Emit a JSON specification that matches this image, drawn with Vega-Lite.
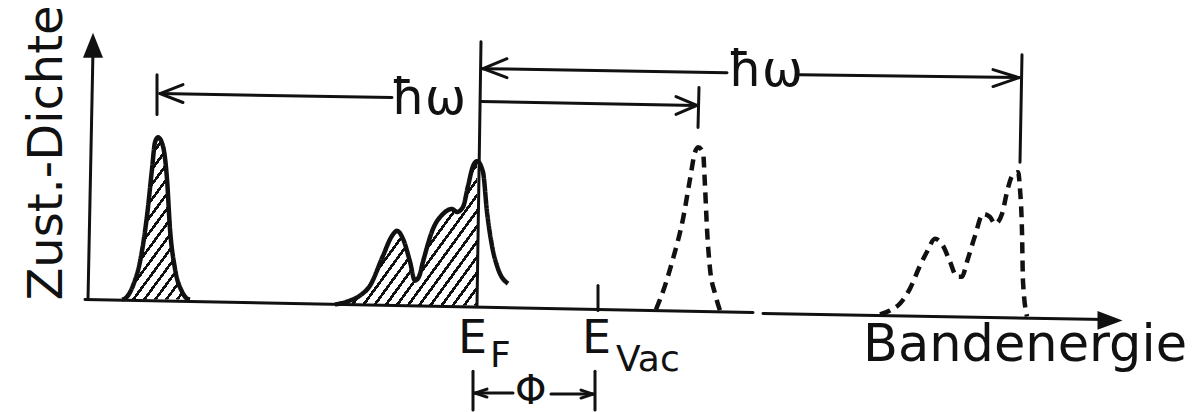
{
  "$schema": "https://vega.github.io/schema/vega-lite/v6.json",
  "width": 1198,
  "height": 412,
  "autosize": {"type": "fit", "contains": "padding"},
  "padding": 0,
  "background": "white",
  "config": {"view": {"stroke": null}},
  "datasets": {
    "curves": [
      {"id": "p1", "style": "solid", "x": 122, "y": 301, "b": 301},
      {"id": "p1", "style": "solid", "x": 125, "y": 300, "b": 301},
      {"id": "p1", "style": "solid", "x": 133, "y": 287, "b": 301},
      {"id": "p1", "style": "solid", "x": 140, "y": 263, "b": 301},
      {"id": "p1", "style": "solid", "x": 147, "y": 217, "b": 301},
      {"id": "p1", "style": "solid", "x": 152, "y": 170, "b": 301},
      {"id": "p1", "style": "solid", "x": 155, "y": 143, "b": 301},
      {"id": "p1", "style": "solid", "x": 158, "y": 138, "b": 301},
      {"id": "p1", "style": "solid", "x": 163, "y": 147, "b": 301},
      {"id": "p1", "style": "solid", "x": 167, "y": 180, "b": 301},
      {"id": "p1", "style": "solid", "x": 170, "y": 230, "b": 301},
      {"id": "p1", "style": "solid", "x": 175, "y": 270, "b": 301},
      {"id": "p1", "style": "solid", "x": 182, "y": 293, "b": 301},
      {"id": "p1", "style": "solid", "x": 187, "y": 300, "b": 301},
      {"id": "p1", "style": "solid", "x": 190, "y": 301, "b": 301},
      {"id": "p2", "style": "solid", "x": 335, "y": 306, "b": 307},
      {"id": "p2", "style": "solid", "x": 350, "y": 302, "b": 307},
      {"id": "p2", "style": "solid", "x": 360, "y": 297, "b": 307},
      {"id": "p2", "style": "solid", "x": 370, "y": 287, "b": 307},
      {"id": "p2", "style": "solid", "x": 383, "y": 257, "b": 307},
      {"id": "p2", "style": "solid", "x": 392, "y": 237, "b": 307},
      {"id": "p2", "style": "solid", "x": 397, "y": 232, "b": 307},
      {"id": "p2", "style": "solid", "x": 403, "y": 240, "b": 307},
      {"id": "p2", "style": "solid", "x": 410, "y": 263, "b": 307},
      {"id": "p2", "style": "solid", "x": 415, "y": 282, "b": 307},
      {"id": "p2", "style": "solid", "x": 419, "y": 278, "b": 307},
      {"id": "p2", "style": "solid", "x": 423, "y": 263, "b": 307},
      {"id": "p2", "style": "solid", "x": 433, "y": 230, "b": 307},
      {"id": "p2", "style": "solid", "x": 443, "y": 215, "b": 307},
      {"id": "p2", "style": "solid", "x": 452, "y": 210, "b": 307},
      {"id": "p2", "style": "solid", "x": 457, "y": 213, "b": 307},
      {"id": "p2", "style": "solid", "x": 463, "y": 208, "b": 307},
      {"id": "p2", "style": "solid", "x": 468, "y": 187, "b": 307},
      {"id": "p2", "style": "solid", "x": 473, "y": 167, "b": 307},
      {"id": "p2", "style": "solid", "x": 477, "y": 162, "b": 307},
      {"id": "p2", "style": "solid", "x": 483, "y": 173, "b": 307},
      {"id": "p2", "style": "solid", "x": 487, "y": 213, "b": 307},
      {"id": "p2", "style": "solid", "x": 492, "y": 247, "b": 307},
      {"id": "p2", "style": "solid", "x": 498, "y": 270, "b": 307},
      {"id": "p2", "style": "solid", "x": 508, "y": 285, "b": 307},
      {"id": "p3", "style": "dashed", "x": 656, "y": 311, "b": 312},
      {"id": "p3", "style": "dashed", "x": 665, "y": 287, "b": 312},
      {"id": "p3", "style": "dashed", "x": 673, "y": 260, "b": 312},
      {"id": "p3", "style": "dashed", "x": 683, "y": 220, "b": 312},
      {"id": "p3", "style": "dashed", "x": 690, "y": 180, "b": 312},
      {"id": "p3", "style": "dashed", "x": 695, "y": 153, "b": 312},
      {"id": "p3", "style": "dashed", "x": 698, "y": 148, "b": 312},
      {"id": "p3", "style": "dashed", "x": 703, "y": 153, "b": 312},
      {"id": "p3", "style": "dashed", "x": 705, "y": 187, "b": 312},
      {"id": "p3", "style": "dashed", "x": 707, "y": 230, "b": 312},
      {"id": "p3", "style": "dashed", "x": 710, "y": 270, "b": 312},
      {"id": "p3", "style": "dashed", "x": 715, "y": 295, "b": 312},
      {"id": "p3", "style": "dashed", "x": 720, "y": 312, "b": 312},
      {"id": "p4", "style": "dashed", "x": 880, "y": 316, "b": 318},
      {"id": "p4", "style": "dashed", "x": 890, "y": 312, "b": 318},
      {"id": "p4", "style": "dashed", "x": 900, "y": 305, "b": 318},
      {"id": "p4", "style": "dashed", "x": 910, "y": 290, "b": 318},
      {"id": "p4", "style": "dashed", "x": 920, "y": 267, "b": 318},
      {"id": "p4", "style": "dashed", "x": 927, "y": 253, "b": 318},
      {"id": "p4", "style": "dashed", "x": 935, "y": 240, "b": 318},
      {"id": "p4", "style": "dashed", "x": 943, "y": 247, "b": 318},
      {"id": "p4", "style": "dashed", "x": 950, "y": 263, "b": 318},
      {"id": "p4", "style": "dashed", "x": 957, "y": 278, "b": 318},
      {"id": "p4", "style": "dashed", "x": 962, "y": 278, "b": 318},
      {"id": "p4", "style": "dashed", "x": 967, "y": 263, "b": 318},
      {"id": "p4", "style": "dashed", "x": 975, "y": 237, "b": 318},
      {"id": "p4", "style": "dashed", "x": 983, "y": 215, "b": 318},
      {"id": "p4", "style": "dashed", "x": 990, "y": 218, "b": 318},
      {"id": "p4", "style": "dashed", "x": 995, "y": 225, "b": 318},
      {"id": "p4", "style": "dashed", "x": 1002, "y": 215, "b": 318},
      {"id": "p4", "style": "dashed", "x": 1007, "y": 193, "b": 318},
      {"id": "p4", "style": "dashed", "x": 1012, "y": 177, "b": 318},
      {"id": "p4", "style": "dashed", "x": 1018, "y": 173, "b": 318},
      {"id": "p4", "style": "dashed", "x": 1020, "y": 190, "b": 318},
      {"id": "p4", "style": "dashed", "x": 1022, "y": 233, "b": 318},
      {"id": "p4", "style": "dashed", "x": 1023, "y": 283, "b": 318},
      {"id": "p4", "style": "dashed", "x": 1027, "y": 318, "b": 318}
    ],
    "segs": [
      {"x": 88, "y": 301, "x2": 93, "y2": 50},
      {"x": 85, "y": 301, "x2": 753, "y2": 314},
      {"x": 763, "y": 315, "x2": 1105, "y2": 321},
      {"x": 157, "y": 75, "x2": 157, "y2": 115},
      {"x": 160, "y": 94, "x2": 392, "y2": 98},
      {"x": 160, "y": 94, "x2": 183, "y2": 85},
      {"x": 160, "y": 94, "x2": 183, "y2": 103},
      {"x": 481, "y": 42, "x2": 477, "y2": 307},
      {"x": 483, "y": 69, "x2": 727, "y2": 73},
      {"x": 800, "y": 75, "x2": 1019, "y2": 78},
      {"x": 483, "y": 69, "x2": 507, "y2": 59},
      {"x": 483, "y": 69, "x2": 507, "y2": 78},
      {"x": 1019, "y": 78, "x2": 993, "y2": 70},
      {"x": 1019, "y": 78, "x2": 993, "y2": 87},
      {"x": 1022, "y": 55, "x2": 1020, "y2": 163},
      {"x": 481, "y": 102, "x2": 696, "y2": 106},
      {"x": 697, "y": 106, "x2": 676, "y2": 97},
      {"x": 697, "y": 106, "x2": 676, "y2": 115},
      {"x": 699, "y": 88, "x2": 698, "y2": 128},
      {"x": 598, "y": 287, "x2": 598, "y2": 312},
      {"x": 473, "y": 373, "x2": 473, "y2": 412},
      {"x": 595, "y": 373, "x2": 595, "y2": 412},
      {"x": 475, "y": 395, "x2": 513, "y2": 395},
      {"x": 551, "y": 396, "x2": 593, "y2": 396},
      {"x": 475, "y": 395, "x2": 487, "y2": 391},
      {"x": 475, "y": 395, "x2": 487, "y2": 399},
      {"x": 593, "y": 396, "x2": 581, "y2": 392},
      {"x": 593, "y": 396, "x2": 581, "y2": 400}
    ],
    "heads": [
      {"x": 93, "y": 45.5, "dir": "up"},
      {"x": 1110, "y": 322, "dir": "right"}
    ],
    "labels": [
      {"role": "axis", "x": 863, "y": 363, "t": "Bandenergie"},
      {"role": "yaxis", "x": 62, "y": 302, "t": "Zust.-Dichte"},
      {"role": "E", "x": 458, "y": 355, "t": "E"},
      {"role": "E", "x": 582, "y": 355, "t": "E"},
      {"role": "sub", "x": 490, "y": 369, "t": "F"},
      {"role": "sub", "x": 616, "y": 373, "t": "Vac"},
      {"role": "hw", "x": 391, "y": 115, "t": "ħω"},
      {"role": "hw", "x": 728, "y": 86, "t": "ħω"},
      {"role": "phi", "x": 515, "y": 406, "t": "Φ"}
    ]
  },
  "encoding": {
    "x": {"field": "x", "type": "quantitative", "scale": {"domain": [0, 1198], "nice": false, "zero": false}, "axis": null},
    "y": {"field": "y", "type": "quantitative", "scale": {"domain": [0, 412], "reverse": true, "nice": false, "zero": false}, "axis": null}
  },
  "layer": [
    {
      "data": {"name": "curves"},
      "transform": [{"filter": "datum.id == 'p1'"}],
      "mark": {"type": "area", "interpolate": "monotone", "fill": {"gradient": "linear", "x1": 0, "y1": 0, "x2": 0.675, "y2": 1.185, "stops": [
        {"offset": 0, "color": "white"}, {"offset": 0.0412, "color": "white"}, {"offset": 0.0412, "color": "#111"}, {"offset": 0.0588, "color": "#111"},
        {"offset": 0.0588, "color": "white"}, {"offset": 0.1, "color": "white"}, {"offset": 0.1, "color": "#111"}, {"offset": 0.1176, "color": "#111"},
        {"offset": 0.1176, "color": "white"}, {"offset": 0.1588, "color": "white"}, {"offset": 0.1588, "color": "#111"}, {"offset": 0.1765, "color": "#111"},
        {"offset": 0.1765, "color": "white"}, {"offset": 0.2176, "color": "white"}, {"offset": 0.2176, "color": "#111"}, {"offset": 0.2353, "color": "#111"},
        {"offset": 0.2353, "color": "white"}, {"offset": 0.2765, "color": "white"}, {"offset": 0.2765, "color": "#111"}, {"offset": 0.2941, "color": "#111"},
        {"offset": 0.2941, "color": "white"}, {"offset": 0.3353, "color": "white"}, {"offset": 0.3353, "color": "#111"}, {"offset": 0.3529, "color": "#111"},
        {"offset": 0.3529, "color": "white"}, {"offset": 0.3941, "color": "white"}, {"offset": 0.3941, "color": "#111"}, {"offset": 0.4118, "color": "#111"},
        {"offset": 0.4118, "color": "white"}, {"offset": 0.4529, "color": "white"}, {"offset": 0.4529, "color": "#111"}, {"offset": 0.4706, "color": "#111"},
        {"offset": 0.4706, "color": "white"}, {"offset": 0.5118, "color": "white"}, {"offset": 0.5118, "color": "#111"}, {"offset": 0.5294, "color": "#111"},
        {"offset": 0.5294, "color": "white"}, {"offset": 0.5706, "color": "white"}, {"offset": 0.5706, "color": "#111"}, {"offset": 0.5882, "color": "#111"},
        {"offset": 0.5882, "color": "white"}, {"offset": 0.6294, "color": "white"}, {"offset": 0.6294, "color": "#111"}, {"offset": 0.6471, "color": "#111"},
        {"offset": 0.6471, "color": "white"}, {"offset": 0.6882, "color": "white"}, {"offset": 0.6882, "color": "#111"}, {"offset": 0.7059, "color": "#111"},
        {"offset": 0.7059, "color": "white"}, {"offset": 0.7471, "color": "white"}, {"offset": 0.7471, "color": "#111"}, {"offset": 0.7647, "color": "#111"},
        {"offset": 0.7647, "color": "white"}, {"offset": 0.8059, "color": "white"}, {"offset": 0.8059, "color": "#111"}, {"offset": 0.8235, "color": "#111"},
        {"offset": 0.8235, "color": "white"}, {"offset": 0.8647, "color": "white"}, {"offset": 0.8647, "color": "#111"}, {"offset": 0.8824, "color": "#111"},
        {"offset": 0.8824, "color": "white"}, {"offset": 0.9235, "color": "white"}, {"offset": 0.9235, "color": "#111"}, {"offset": 0.9412, "color": "#111"},
        {"offset": 0.9412, "color": "white"}, {"offset": 0.9824, "color": "white"}, {"offset": 0.9824, "color": "#111"}, {"offset": 1, "color": "#111"}
      ]}},
      "encoding": {"y2": {"field": "b"}}
    },
    {
      "data": {"name": "curves"},
      "transform": [{"filter": "datum.id == 'p2' && datum.x <= 477"}],
      "mark": {"type": "area", "interpolate": "monotone", "fill": {"gradient": "linear", "x1": 0, "y1": 0, "x2": 1.124, "y2": 0.833, "stops": [
        {"offset": 0, "color": "white"}, {"offset": 0.0318, "color": "white"}, {"offset": 0.0318, "color": "#111"}, {"offset": 0.0455, "color": "#111"},
        {"offset": 0.0455, "color": "white"}, {"offset": 0.0773, "color": "white"}, {"offset": 0.0773, "color": "#111"}, {"offset": 0.0909, "color": "#111"},
        {"offset": 0.0909, "color": "white"}, {"offset": 0.1227, "color": "white"}, {"offset": 0.1227, "color": "#111"}, {"offset": 0.1364, "color": "#111"},
        {"offset": 0.1364, "color": "white"}, {"offset": 0.1682, "color": "white"}, {"offset": 0.1682, "color": "#111"}, {"offset": 0.1818, "color": "#111"},
        {"offset": 0.1818, "color": "white"}, {"offset": 0.2136, "color": "white"}, {"offset": 0.2136, "color": "#111"}, {"offset": 0.2273, "color": "#111"},
        {"offset": 0.2273, "color": "white"}, {"offset": 0.2591, "color": "white"}, {"offset": 0.2591, "color": "#111"}, {"offset": 0.2727, "color": "#111"},
        {"offset": 0.2727, "color": "white"}, {"offset": 0.3045, "color": "white"}, {"offset": 0.3045, "color": "#111"}, {"offset": 0.3182, "color": "#111"},
        {"offset": 0.3182, "color": "white"}, {"offset": 0.35, "color": "white"}, {"offset": 0.35, "color": "#111"}, {"offset": 0.3636, "color": "#111"},
        {"offset": 0.3636, "color": "white"}, {"offset": 0.3955, "color": "white"}, {"offset": 0.3955, "color": "#111"}, {"offset": 0.4091, "color": "#111"},
        {"offset": 0.4091, "color": "white"}, {"offset": 0.4409, "color": "white"}, {"offset": 0.4409, "color": "#111"}, {"offset": 0.4545, "color": "#111"},
        {"offset": 0.4545, "color": "white"}, {"offset": 0.4864, "color": "white"}, {"offset": 0.4864, "color": "#111"}, {"offset": 0.5, "color": "#111"},
        {"offset": 0.5, "color": "white"}, {"offset": 0.5318, "color": "white"}, {"offset": 0.5318, "color": "#111"}, {"offset": 0.5455, "color": "#111"},
        {"offset": 0.5455, "color": "white"}, {"offset": 0.5773, "color": "white"}, {"offset": 0.5773, "color": "#111"}, {"offset": 0.5909, "color": "#111"},
        {"offset": 0.5909, "color": "white"}, {"offset": 0.6227, "color": "white"}, {"offset": 0.6227, "color": "#111"}, {"offset": 0.6364, "color": "#111"},
        {"offset": 0.6364, "color": "white"}, {"offset": 0.6682, "color": "white"}, {"offset": 0.6682, "color": "#111"}, {"offset": 0.6818, "color": "#111"},
        {"offset": 0.6818, "color": "white"}, {"offset": 0.7136, "color": "white"}, {"offset": 0.7136, "color": "#111"}, {"offset": 0.7273, "color": "#111"},
        {"offset": 0.7273, "color": "white"}, {"offset": 0.7591, "color": "white"}, {"offset": 0.7591, "color": "#111"}, {"offset": 0.7727, "color": "#111"},
        {"offset": 0.7727, "color": "white"}, {"offset": 0.8045, "color": "white"}, {"offset": 0.8045, "color": "#111"}, {"offset": 0.8182, "color": "#111"},
        {"offset": 0.8182, "color": "white"}, {"offset": 0.85, "color": "white"}, {"offset": 0.85, "color": "#111"}, {"offset": 0.8636, "color": "#111"},
        {"offset": 0.8636, "color": "white"}, {"offset": 0.8955, "color": "white"}, {"offset": 0.8955, "color": "#111"}, {"offset": 0.9091, "color": "#111"},
        {"offset": 0.9091, "color": "white"}, {"offset": 0.9409, "color": "white"}, {"offset": 0.9409, "color": "#111"}, {"offset": 0.9545, "color": "#111"},
        {"offset": 0.9545, "color": "white"}, {"offset": 0.9864, "color": "white"}, {"offset": 0.9864, "color": "#111"}, {"offset": 1, "color": "#111"}
      ]}},
      "encoding": {"y2": {"field": "b"}}
    },
    {
      "data": {"name": "curves"},
      "mark": {"type": "line", "interpolate": "monotone", "color": "#111", "strokeWidth": 4.5, "strokeCap": "butt", "strokeJoin": "round"},
      "encoding": {
        "detail": {"field": "id"},
        "strokeDash": {"field": "style", "type": "nominal", "scale": {"domain": ["solid", "dashed"], "range": [[1, 0], [11, 7]]}, "legend": null}
      }
    },
    {
      "data": {"name": "segs"},
      "mark": {"type": "rule", "color": "#111", "strokeWidth": 3, "strokeCap": "round"},
      "encoding": {"x2": {"field": "x2"}, "y2": {"field": "y2"}}
    },
    {
      "data": {"name": "heads"},
      "mark": {"type": "point", "filled": true, "color": "#111", "opacity": 1, "size": 625},
      "encoding": {
        "shape": {"field": "dir", "type": "nominal", "scale": {"domain": ["up", "right"], "range": ["M0,-1L0.8,1L-0.8,1Z", "M1,0L-1,0.75L-1,-0.75Z"]}, "legend": null}
      }
    },
    {
      "data": {"name": "labels"},
      "transform": [{"filter": "datum.role == 'axis'"}],
      "mark": {"type": "text", "font": "DejaVu Sans", "fontSize": 51, "align": "left", "baseline": "alphabetic", "color": "#111"},
      "encoding": {"text": {"field": "t"}}
    },
    {
      "data": {"name": "labels"},
      "transform": [{"filter": "datum.role == 'yaxis'"}],
      "mark": {"type": "text", "font": "DejaVu Sans", "fontSize": 48, "angle": 270, "align": "left", "baseline": "alphabetic", "color": "#111"},
      "encoding": {"text": {"field": "t"}}
    },
    {
      "data": {"name": "labels"},
      "transform": [{"filter": "datum.role == 'E'"}],
      "mark": {"type": "text", "font": "DejaVu Sans", "fontSize": 46, "align": "left", "baseline": "alphabetic", "color": "#111"},
      "encoding": {"text": {"field": "t"}}
    },
    {
      "data": {"name": "labels"},
      "transform": [{"filter": "datum.role == 'sub'"}],
      "mark": {"type": "text", "font": "DejaVu Sans", "fontSize": 36, "align": "left", "baseline": "alphabetic", "color": "#111"},
      "encoding": {"text": {"field": "t"}}
    },
    {
      "data": {"name": "labels"},
      "transform": [{"filter": "datum.role == 'hw'"}],
      "mark": {"type": "text", "font": "DejaVu Sans", "fontSize": 49, "align": "left", "baseline": "alphabetic", "color": "#111"},
      "encoding": {"text": {"field": "t"}}
    },
    {
      "data": {"name": "labels"},
      "transform": [{"filter": "datum.role == 'phi'"}],
      "mark": {"type": "text", "font": "DejaVu Sans", "fontSize": 40, "align": "left", "baseline": "alphabetic", "color": "#111"},
      "encoding": {"text": {"field": "t"}}
    }
  ]
}
